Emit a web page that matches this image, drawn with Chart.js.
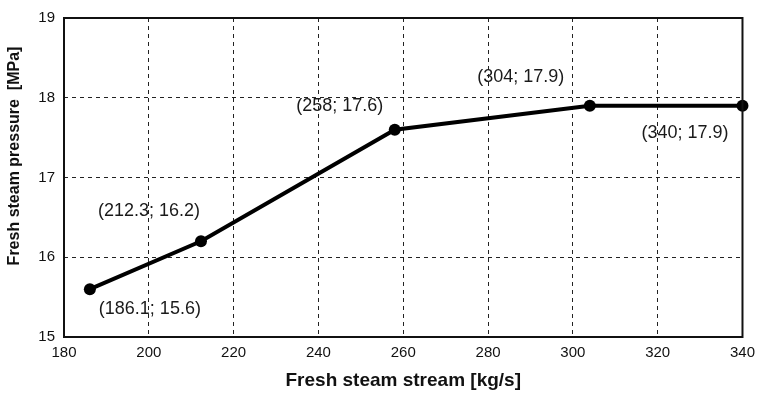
<!DOCTYPE html>
<html>
<head>
<meta charset="utf-8">
<script src="https://cdn.jsdelivr.net/npm/chart.js@4/dist/chart.umd.min.js"></script>
<style>
  html, body { margin: 0; padding: 0; background: #fff; }
  #wrap { width: 762px; height: 396px; position: relative; }
</style>
</head>
<body>
<div id="wrap"><canvas id="c"></canvas></div>
<script>
// Fresh steam stream (kg/s) against fresh steam pressure (MPa)
const steamFlow = [186.1, 212.3, 258, 304, 340];
const steamPressure = [15.6, 16.2, 17.6, 17.9, 17.9];
const xTicks = [180, 200, 220, 240, 260, 280, 300, 320, 340];
const yTicks = [15, 16, 17, 18, 19];
const xTitle = 'Fresh steam stream [kg/s]';
const yTitle = 'Fresh steam pressure  [MPa]';

// where each "(x; y)" label sits relative to its point, in pixels
const labelShift = [[60, 19.5], [-52, -30], [-55, -24], [-69, -29], [-57.5, 27]];

const FONT = '"Liberation Sans", Arial, Helvetica, sans-serif';

const pointLabels = {
  id: 'pointLabels',
  afterDatasetsDraw(chart) {
    const { ctx, scales: { x, y } } = chart;
    ctx.save();
    ctx.font = '18px ' + FONT;
    ctx.fillStyle = '#1a1a1a';
    ctx.textAlign = 'center';
    ctx.textBaseline = 'middle';
    steamFlow.forEach((v, i) => {
      const px = x.getPixelForValue(v) + labelShift[i][0];
      const py = y.getPixelForValue(steamPressure[i]) + labelShift[i][1];
      ctx.fillText('(' + v + '; ' + steamPressure[i].toFixed(1) + ')', px, py);
    });
    ctx.restore();
  }
};

// rotated y-axis title and the plot frame
const frame = {
  id: 'frame',
  afterDraw(chart) {
    const { ctx, chartArea: a } = chart;
    ctx.save();
    ctx.strokeStyle = '#111';
    ctx.lineWidth = 2;
    ctx.strokeRect(a.left, a.top, a.right - a.left, a.bottom - a.top);
    ctx.translate(15, 156);
    ctx.rotate(-Math.PI / 2);
    ctx.font = 'bold 16px ' + FONT;
    ctx.fillStyle = '#111';
    ctx.textAlign = 'center';
    ctx.textBaseline = 'middle';
    ctx.fillText(yTitle, 0, 0);
    ctx.restore();
  }
};

new Chart(document.getElementById('c'), {
  type: 'line',
  data: {
    datasets: [{
      data: steamFlow.map((v, i) => ({ x: v, y: steamPressure[i] })),
      borderColor: '#000',
      backgroundColor: '#000',
      borderWidth: 4,
      pointRadius: 6,
      pointHoverRadius: 6,
      pointBackgroundColor: '#000',
      pointBorderWidth: 0,
      tension: 0,
      clip: false
    }]
  },
  options: {
    responsive: true,
    maintainAspectRatio: false,
    animation: false,
    events: [],
    layout: { padding: { top: 14, right: 13, left: 0, bottom: 0 } },
    plugins: { legend: { display: false }, tooltip: { enabled: false } },
    scales: {
      x: {
        type: 'linear',
        min: xTicks[0],
        max: xTicks[xTicks.length - 1],
        afterBuildTicks(s) { s.ticks = xTicks.map(v => ({ value: v })); },
        afterFit(s) { s.height = 59; },
        border: { display: false, dash: [4, 4] },
        grid: { color: '#222', lineWidth: 1, drawTicks: false },
        ticks: { color: '#111', font: { family: FONT, size: 15 }, padding: 7, maxRotation: 0 },
        title: {
          display: true,
          text: xTitle,
          color: '#111',
          font: { family: FONT, size: 19, weight: 'bold' },
          padding: { top: 0, bottom: 4 }
        }
      },
      y: {
        type: 'linear',
        min: yTicks[0],
        max: yTicks[yTicks.length - 1],
        afterBuildTicks(s) { s.ticks = yTicks.map(v => ({ value: v })); },
        afterFit(s) { s.width = 64; },
        border: { display: false, dash: [4, 4] },
        grid: { color: '#222', lineWidth: 1, drawTicks: false },
        ticks: { color: '#111', font: { family: FONT, size: 15 }, padding: 9 }
      }
    }
  },
  plugins: [pointLabels, frame]
});
</script>
</body>
</html>
